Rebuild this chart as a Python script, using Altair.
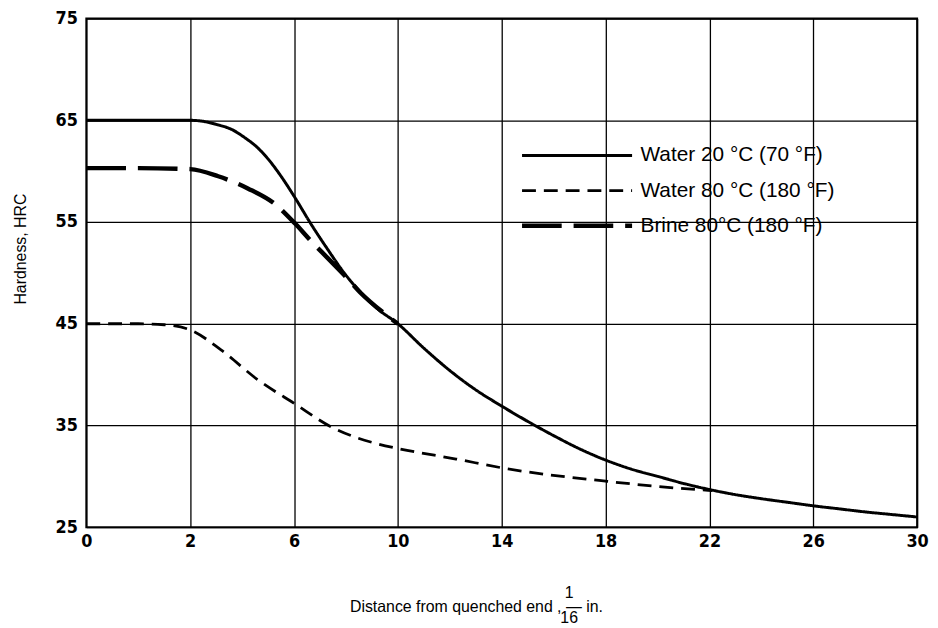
import altair as alt
import pandas as pd

series_names = ["Water 20 °C (70 °F)", "Water 80 °C (180 °F)", "Brine 80°C (180 °F)"]

water20_x = [0, 1, 2, 2.5, 3.0, 3.6, 4.1, 4.6, 5.0, 5.5, 6.06, 6.63, 7.3, 7.93, 8.6, 9.2, 10,
             11, 12, 13, 14, 15, 16, 17, 18, 19, 20, 21, 22, 23, 24, 25, 26, 27, 28, 29, 30]
water20_y = [65, 65, 65, 64.9, 64.6, 64.1, 63.3, 62.3, 61.2, 59.5, 57.3, 54.9, 52.3, 50.0, 48.0, 46.5, 45,
             42.6, 40.4, 38.5, 36.9, 35.4, 34.0, 32.7, 31.6, 30.7, 30.0, 29.3, 28.7, 28.2, 27.8, 27.45,
             27.1, 26.8, 26.5, 26.25, 26.0]

water80_x = [0, 1, 1.5, 2, 3.2, 4.6, 6.05, 7.4, 8.3, 9.2, 10.07, 12.24, 14.08, 18.08, 21.5, 22.1]
water80_y = [45, 45, 44.9, 44.4, 42.4, 39.5, 37.1, 34.9, 33.9, 33.2, 32.7, 31.7, 30.8, 29.5, 28.7, 28.6]

brine_x = [0, 1, 2, 3.08, 4.22, 5.25, 6.06, 6.63, 7.28, 7.93, 8.54, 9.46, 10]
brine_y = [60.3, 60.3, 60.2, 59.5, 58.3, 56.8, 54.8, 53.2, 51.5, 49.8, 48.1, 46.05, 45]

x_ticks = [0, 2, 6, 10, 14, 18, 22, 26, 30]
y_ticks = [25, 35, 45, 55, 65, 75]

rows = []
for name, xs, ys in zip(series_names, [water20_x, water80_x, brine_x], [water20_y, water80_y, brine_y]):
    for i, (a, b) in enumerate(zip(xs, ys)):
        rows.append({"series": name, "x": a, "y": b, "order": i})
df = pd.DataFrame(rows)

W, H = 838, 513
tick_font = "Liberation Sans Narrow, DejaVu Sans Condensed, Roboto Condensed, Liberation Sans, sans-serif"
text_font = "Liberation Sans, Arial, Helvetica, sans-serif"

x_title = "Distance from quenched end , \u2014 in."

legend_opts = dict(title=None, orient="none", legendX=437, legendY=127)

chart = alt.Chart(df).mark_line(interpolate="monotone", color="black", strokeCap="butt").encode(
    x=alt.X("x:Q",
            scale=alt.Scale(domain=[0, 2, 30], range=[0, W / 8, W], nice=False, zero=False),
            axis=alt.Axis(values=x_ticks, title=x_title, labelFlush=False, labelOverlap=False,
                          labelPadding=6, titlePadding=48, titleX=393)),
    y=alt.Y("y:Q",
            scale=alt.Scale(domain=[25, 75], nice=False, zero=False),
            axis=alt.Axis(values=y_ticks, title="Hardness, HRC", labelPadding=9,
                          labelOverlap=False, titlePadding=27, titleY=232)),
    strokeDash=alt.StrokeDash("series:N",
                              scale=alt.Scale(domain=series_names, range=[[1, 0], [14, 8], [40, 12]]),
                              legend=alt.Legend(**legend_opts)),
    strokeWidth=alt.StrokeWidth("series:N",
                                scale=alt.Scale(type="ordinal", domain=series_names, range=[3, 2.8, 4.5]),
                                legend=alt.Legend(**legend_opts)),
    order="order:Q",
).properties(
    width=W, height=H,
    autosize=alt.AutoSizeParams(type="none"),
    padding={"left": 79, "top": 8, "right": 13, "bottom": 96},
    title=alt.TitleParams(text="1", subtitle="16", orient="bottom", anchor="middle",
                          dx=68, dy=-30, offset=0, fontSize=16, subtitleFontSize=16,
                          font=text_font, subtitleFont=text_font, fontWeight="normal",
                          color="black", subtitleColor="black", subtitlePadding=10),
).configure_view(
    stroke="black", strokeWidth=2
).configure_axis(
    grid=True, gridColor="black", gridWidth=1.3, gridOpacity=1,
    domain=False, ticks=False,
    labelFont=tick_font, labelFontWeight="bold", labelFontSize=18, labelColor="black",
    titleFont=text_font, titleFontSize=16, titleFontWeight="normal", titleColor="black",
).configure_legend(
    symbolType="stroke", symbolSize=12321, clipHeight=22, rowPadding=13.5,
    labelFontSize=21, labelFont=text_font, labelColor="black", labelOffset=6,
    symbolStrokeColor="black", padding=0, symbolOffset=0, labelLimit=400,
)

chart.save("out.html", embed_options={"renderer": "svg", "actions": False})
